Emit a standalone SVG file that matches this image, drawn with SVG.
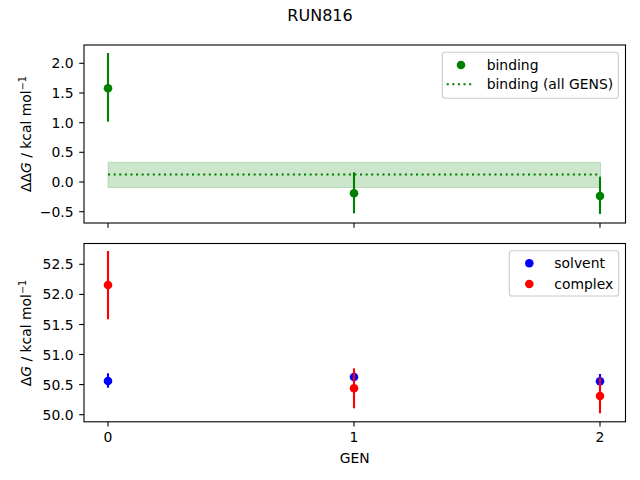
<svg xmlns="http://www.w3.org/2000/svg" width="640" height="480" viewBox="0 0 640 480">
<style>
text{font-family:"DejaVu Sans","Liberation Sans",sans-serif;fill:#000}
.tk{font-size:13.9px}
.yt{text-anchor:end}
.xt{text-anchor:middle}
.spine{fill:none;stroke:#000;stroke-width:1.1}
.tick{stroke:#000;stroke-width:1.1}
.eg{stroke:#008000;stroke-width:2.1}
.eb{stroke:#0000ff;stroke-width:2.1}
.er{stroke:#ff0000;stroke-width:2.1}
.leg{fill:#fff;fill-opacity:0.8;stroke:#cccccc;stroke-width:1.1}
</style>
<rect width="640" height="480" fill="#fff"/>
<text x="320" y="21.3" font-size="16px" text-anchor="middle">RUN816</text>

<g id="top-axes">
<rect x="108" y="162.3" width="492.5" height="25.2" fill="#008000" fill-opacity="0.2" stroke="#008000" stroke-opacity="0.2" stroke-width="1"/>
<line x1="108" y1="174.5" x2="600" y2="174.5" stroke="#008000" stroke-width="2.1" stroke-dasharray="2.1 3.5"/>
<line class="eg" x1="108" y1="53" x2="108" y2="121.7"/>
<line class="eg" x1="354" y1="172.3" x2="354" y2="213.3"/>
<line class="eg" x1="600" y1="176.7" x2="600" y2="214"/>
<circle cx="108" cy="88.3" r="4.3" fill="#008000"/>
<circle cx="354" cy="193.3" r="4.3" fill="#008000"/>
<circle cx="600" cy="196" r="4.3" fill="#008000"/>
<rect class="spine" x="84" y="45" width="541.5" height="178"/>
<g class="tick">
<line x1="79.2" y1="63.3" x2="84" y2="63.3"/>
<line x1="79.2" y1="93" x2="84" y2="93"/>
<line x1="79.2" y1="122.7" x2="84" y2="122.7"/>
<line x1="79.2" y1="152.3" x2="84" y2="152.3"/>
<line x1="79.2" y1="182" x2="84" y2="182"/>
<line x1="79.2" y1="211.7" x2="84" y2="211.7"/>
<line x1="108" y1="223" x2="108" y2="227.8"/>
<line x1="354" y1="223" x2="354" y2="227.8"/>
<line x1="600" y1="223" x2="600" y2="227.8"/>
</g>
<g class="tk yt">
<text x="73.5" y="68.3">2.0</text>
<text x="73.5" y="98">1.5</text>
<text x="73.5" y="127.7">1.0</text>
<text x="73.5" y="157.3">0.5</text>
<text x="73.5" y="187">0.0</text>
<text x="73.5" y="216.7">−0.5</text>
</g>
<text class="tk" transform="translate(31,134) rotate(-90)" text-anchor="middle">ΔΔ<tspan font-style="italic">G</tspan> / kcal mol<tspan font-size="9.7px" dy="-5.5">−1</tspan></text>
</g>

<g id="top-legend">
<rect class="leg" x="442.3" y="52.3" width="176" height="46" rx="2.8"/>
<circle cx="461" cy="65" r="4.3" fill="#008000"/>
<text class="tk" x="486.7" y="70">binding</text>
<line x1="446.7" y1="84.3" x2="474" y2="84.3" stroke="#008000" stroke-width="2.1" stroke-dasharray="2.1 3.5"/>
<text class="tk" x="486.7" y="89.3">binding (all GENS)</text>
</g>

<g id="bottom-axes">
<line class="eb" x1="108" y1="373.3" x2="108" y2="387.7"/>
<circle cx="108" cy="381" r="4.3" fill="#0000ff"/>
<line class="eb" x1="354" y1="370.5" x2="354" y2="383.5"/>
<circle cx="354" cy="377" r="4.3" fill="#0000ff"/>
<line class="eb" x1="600" y1="374" x2="600" y2="388.5"/>
<circle cx="600" cy="381.3" r="4.3" fill="#0000ff"/>
<line class="er" x1="108" y1="251" x2="108" y2="319.3"/>
<circle cx="108" cy="285" r="4.3" fill="#ff0000"/>
<line class="er" x1="354" y1="368.3" x2="354" y2="408.3"/>
<circle cx="354" cy="388.3" r="4.3" fill="#ff0000"/>
<line class="er" x1="600" y1="377.3" x2="600" y2="413.3"/>
<circle cx="600" cy="396" r="4.3" fill="#ff0000"/>
<rect class="spine" x="84" y="243.5" width="541.5" height="178.3"/>
<g class="tick">
<line x1="79.2" y1="264.3" x2="84" y2="264.3"/>
<line x1="79.2" y1="294.4" x2="84" y2="294.4"/>
<line x1="79.2" y1="324.5" x2="84" y2="324.5"/>
<line x1="79.2" y1="354.5" x2="84" y2="354.5"/>
<line x1="79.2" y1="384.6" x2="84" y2="384.6"/>
<line x1="79.2" y1="414.7" x2="84" y2="414.7"/>
<line x1="108" y1="421.8" x2="108" y2="426.6"/>
<line x1="354" y1="421.8" x2="354" y2="426.6"/>
<line x1="600" y1="421.8" x2="600" y2="426.6"/>
</g>
<g class="tk yt">
<text x="73.5" y="269.3">52.5</text>
<text x="73.5" y="299.4">52.0</text>
<text x="73.5" y="329.5">51.5</text>
<text x="73.5" y="359.5">51.0</text>
<text x="73.5" y="389.6">50.5</text>
<text x="73.5" y="419.7">50.0</text>
</g>
<g class="tk xt">
<text x="108" y="441.7">0</text>
<text x="354" y="441.7">1</text>
<text x="600" y="441.7">2</text>
</g>
<text class="tk" x="354.7" y="462.7" text-anchor="middle">GEN</text>
<text class="tk" transform="translate(31,333) rotate(-90)" text-anchor="middle">Δ<tspan font-style="italic">G</tspan> / kcal mol<tspan font-size="9.7px" dy="-5.5">−1</tspan></text>
</g>

<g id="bottom-legend">
<rect class="leg" x="509.3" y="250.7" width="109.4" height="45.3" rx="2.8"/>
<circle cx="529.3" cy="263.3" r="4.3" fill="#0000ff"/>
<text class="tk" x="554.3" y="268.3">solvent</text>
<circle cx="529.3" cy="284" r="4.3" fill="#ff0000"/>
<text class="tk" x="554.3" y="289">complex</text>
</g>
</svg>
